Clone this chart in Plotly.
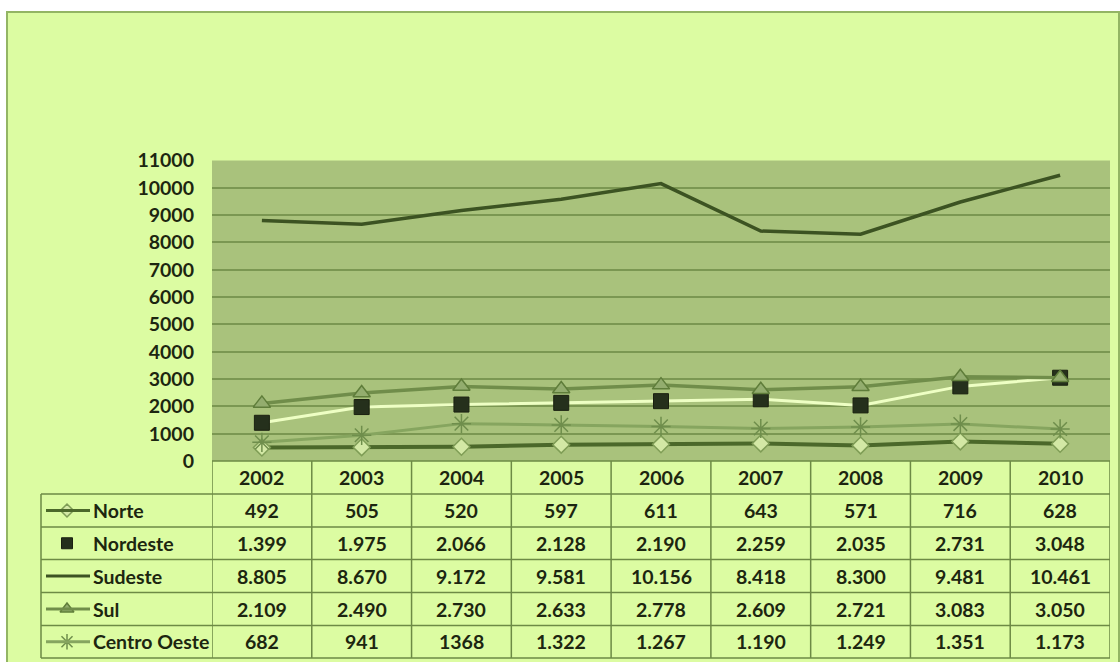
import plotly.graph_objects as go

# ---- data ----
years = ["2002", "2003", "2004", "2005", "2006", "2007", "2008", "2009", "2010"]
norte = [492, 505, 520, 597, 611, 643, 571, 716, 628]
nordeste = [1399, 1975, 2066, 2128, 2190, 2259, 2035, 2731, 3048]
sudeste = [8805, 8670, 9172, 9581, 10156, 8418, 8300, 9481, 10461]
sul = [2109, 2490, 2730, 2633, 2778, 2609, 2721, 3083, 3050]
centro_oeste = [682, 941, 1368, 1322, 1267, 1190, 1249, 1351, 1173]
# cells printed without a thousands separator in the table
plain_cells = {("Centro Oeste", 2)}

# ---- geometry (pixels) ----
W, H = 1120, 662
PL, PR, PT, PB = 212, 1110, 160.5, 461
ROWS = [461, 494, 527, 559.5, 592.5, 625.5, 658]
TL = 41


def px(x):
    return x / W


def py(y):
    return 1 - y / H


TXT = "#1c2610"
FONT = dict(family="Lato", size=19.5, color=TXT, weight="bold")

series = [
    dict(name="Norte", y=norte, line=dict(color="#4b682a", width=4),
         marker=dict(symbol="diamond", size=13, color="#d3e8a5",
                     line=dict(color="#7f9d56", width=1.5)),
         key_size=10, mode="lines+markers"),
    dict(name="Nordeste", y=nordeste, line=dict(color="#eeffc4", width=3),
         marker=dict(symbol="square", size=15, color="#25301c",
                     line=dict(color="#1a2010", width=1)),
         key_size=11, mode="lines+markers"),
    dict(name="Sudeste", y=sudeste, line=dict(color="#3c5322", width=3.5),
         marker=None, key_size=0, mode="lines"),
    dict(name="Sul", y=sul, line=dict(color="#708d4a", width=3.5),
         marker=dict(symbol="triangle-up", size=15, color="#93ad6e",
                     line=dict(color="#5f7d3a", width=1.5)),
         key_size=12, mode="lines+markers"),
    dict(name="Centro Oeste", y=centro_oeste, line=dict(color="#86a55f", width=3),
         marker=dict(symbol="asterisk-open", size=16, color="#6f8e4c",
                     line=dict(color="#6f8e4c", width=1.5)),
         key_size=13, mode="lines+markers"),
]


def fmt(v, plain=False):
    if v < 1000 or plain:
        return str(v)
    return f"{v:,}".replace(",", ".")


fig = go.Figure()
xs = list(range(len(years)))
for s in series:
    kw = dict(x=xs, y=s["y"], name=s["name"], mode=s["mode"], line=s["line"],
              showlegend=False, hoverinfo="skip")
    if s["marker"]:
        kw["marker"] = s["marker"]
    fig.add_trace(go.Scatter(**kw))

shapes = []
annotations = []

# outer frame and plot area backgrounds
shapes.append(dict(type="rect", xref="paper", yref="paper", layer="below",
                   x0=px(7), x1=px(1119), y0=py(12), y1=py(672),
                   fillcolor="#dcfca2", line=dict(color="#93b564", width=2)))
shapes.append(dict(type="rect", xref="paper", yref="paper", layer="below",
                   x0=px(PL), x1=px(PR), y0=py(PT), y1=py(PB),
                   fillcolor="#a9c27c", line=dict(width=0)))

LC = "#6d8a45"
# table horizontal rules
shapes.append(dict(type="line", xref="paper", yref="paper",
                   x0=px(PL), x1=px(PR), y0=py(ROWS[0]), y1=py(ROWS[0]),
                   line=dict(color=LC, width=1.5)))
for yy in ROWS[1:]:
    shapes.append(dict(type="line", xref="paper", yref="paper",
                       x0=px(TL), x1=px(PR), y0=py(yy), y1=py(yy),
                       line=dict(color=LC, width=1.5)))
# table vertical rules
shapes.append(dict(type="line", xref="paper", yref="paper",
                   x0=px(TL), x1=px(TL), y0=py(ROWS[1]), y1=py(ROWS[-1]),
                   line=dict(color=LC, width=1.5)))
for k in range(len(years) + 1):
    shapes.append(dict(type="line", xref="x", yref="paper",
                       x0=k - 0.5, x1=k - 0.5, y0=py(ROWS[0]), y1=py(ROWS[-1]),
                       line=dict(color=LC, width=1.5)))

# year header
for i, yr in enumerate(years):
    annotations.append(dict(xref="x", yref="paper", x=i,
                            y=py((ROWS[0] + ROWS[1]) / 2), text=yr,
                            xanchor="center", yanchor="middle",
                            showarrow=False, font=FONT))

# rows: legend key, name and values
for r, s in enumerate(series):
    yc = (ROWS[r + 1] + ROWS[r + 2]) / 2
    if s["name"] != "Nordeste":
        shapes.append(dict(type="line", xref="paper", yref="paper",
                           x0=px(46), x1=px(90), y0=py(yc), y1=py(yc),
                           line=dict(color=s["line"]["color"],
                                     width=min(s["line"]["width"], 3))))
    if s["marker"]:
        key_marker = dict(s["marker"], size=s["key_size"])
        fig.add_trace(go.Scatter(x=[67], y=[yc], xaxis="x2", yaxis="y2",
                                 mode="markers", marker=key_marker,
                                 showlegend=False, hoverinfo="skip"))
    annotations.append(dict(xref="paper", yref="paper", x=px(91), y=py(yc),
                            xanchor="left", yanchor="middle", text=s["name"],
                            showarrow=False, font=FONT))
    for i, v in enumerate(s["y"]):
        annotations.append(dict(xref="x", yref="paper", x=i, y=py(yc),
                                xanchor="center", yanchor="middle",
                                text=fmt(v, (s["name"], i) in plain_cells),
                                showarrow=False, font=FONT))

fig.update_layout(
    width=W, height=H,
    margin=dict(l=0, r=0, t=0, b=0, pad=0, autoexpand=False),
    paper_bgcolor="white",
    plot_bgcolor="rgba(0,0,0,0)",
    xaxis=dict(domain=[px(PL), px(PR)], range=[-0.5, 8.5], visible=False,
               fixedrange=True, automargin=False),
    yaxis=dict(domain=[py(PB), py(PT)], range=[0, 11000], dtick=1000,
               tickformat="d", showgrid=True, gridcolor="#7b9752",
               gridwidth=1.5, zeroline=False, showline=False, ticks="",
               ticklabelstandoff=17, tickfont=FONT, fixedrange=True,
               automargin=False),
    xaxis2=dict(domain=[0, 1], range=[0, W], visible=False, anchor="y2",
                fixedrange=True, automargin=False),
    yaxis2=dict(domain=[0, 1], range=[H, 0], visible=False, anchor="x2",
                fixedrange=True, automargin=False),
    shapes=shapes,
    annotations=annotations,
)

fig.write_html("out.html")
